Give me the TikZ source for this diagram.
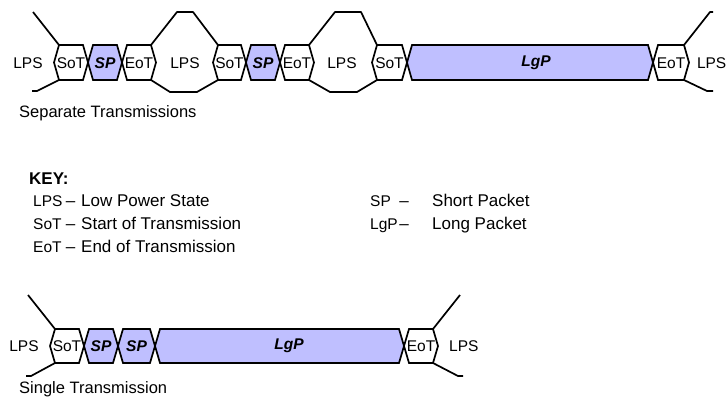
\documentclass[tikz,border=0pt]{standalone}
\usepackage{fontspec}
\setmainfont{Liberation Sans}
\definecolor{pkt}{RGB}{191,191,255}
\newcommand{\hexcell}[6]{% name, x1, x2, top, mid, bot
  \path[cellline] (#2,#5) -- (#2+5,#4) -- (#3-5,#4) -- (#3,#5) -- (#3-5,#6) -- (#2+5,#6) -- cycle;}
\newcommand{\pktcell}[6]{%
  \path[cellline,fill=pkt] (#2,#5) -- (#2+5,#4) -- (#3-5,#4) -- (#3,#5) -- (#3-5,#6) -- (#2+5,#6) -- cycle;}
\tikzset{
  cellline/.style={draw=black,line width=1.7pt,line join=miter},
  wire/.style={draw=black,line width=1.7pt,line join=round},
  lbl/.style={inner sep=0pt,font=\fontsize{15.5}{18}\selectfont},
  pktlbl/.style={inner sep=0pt,font=\fontsize{15.5}{18}\selectfont\bfseries\itshape},
  keytxt/.style={inner sep=0pt,anchor=base west,font=\fontsize{17}{20}\selectfont},
  keydash/.style={inner sep=0pt,anchor=base,font=\fontsize{17}{20}\selectfont},
  keyabbr/.style={inner sep=0pt,anchor=base west,font=\fontsize{15.5}{20}\selectfont},
  captxt/.style={inner sep=0pt,anchor=west,font=\fontsize{16.5}{20}\selectfont},
}
\begin{document}
\begin{tikzpicture}[x=1pt,y=-1pt]
\useasboundingbox (0,0) rectangle (727,400);
% ---------- top row: separate transmissions ----------
\draw[wire] (33,12) -- (59,45);
\draw[wire] (32,91) -- (37,91) -- (59,80);
\hexcell{s1}{54}{88}{45}{62.5}{80}
\pktcell{p1}{88}{122}{45}{62.5}{80}
\hexcell{e1}{122}{156}{45}{62.5}{80}
\draw[wire] (151,45) -- (177,12) -- (193,12) -- (218,45);
\draw[wire] (151,80) -- (170,92) -- (197,92) -- (218,80);
\hexcell{s2}{213}{246}{45}{62.5}{80}
\pktcell{p2}{246}{280}{45}{62.5}{80}
\hexcell{e2}{280}{314}{45}{62.5}{80}
\draw[wire] (309,45) -- (335,12) -- (361,12) -- (377,45);
\draw[wire] (309,80) -- (330,92) -- (357,92) -- (377,80);
\hexcell{s3}{372}{407}{45}{62.5}{80}
\pktcell{lg1}{407}{653}{45}{62.5}{80}
\hexcell{e3}{653}{689}{45}{62.5}{80}
\draw[wire] (684,45) -- (710,12) -- (713,12);
\draw[wire] (684,80) -- (707,91) -- (713,91);

\node[lbl] (tl1) at (28,63) {LPS};
\node[lbl] (ts1) at (71,63) {SoT};
\node[pktlbl] (tp1) at (105,63) {SP};
\node[lbl] (te1) at (139,63) {EoT};
\node[lbl] (tl2) at (185,63) {LPS};
\node[lbl] (ts2) at (229.5,63) {SoT};
\node[pktlbl] (tp2) at (263,63) {SP};
\node[lbl] (te2) at (297,63) {EoT};
\node[lbl] (tl3) at (342,63) {LPS};
\node[lbl] (ts3) at (389.5,63) {SoT};
\node[pktlbl] (tg1) at (536,63) {LgP};
\node[lbl] (te3) at (671,63) {EoT};
\node[lbl,anchor=east] (tl4) at (726.5,63) {LPS};
\node[captxt] (sep) at (19,113) {Separate Transmissions};

% ---------- key ----------
\node[keytxt,font=\fontsize{17}{20}\selectfont\bfseries] (key) at (29,184) {KEY:};
\node[keyabbr] (k1a) at (33,206) {LPS};
\node[keydash] (k1b) at (70.5,206) {–};
\node[keytxt] (k1c) at (81,206) {Low Power State};
\node[keyabbr] (k2a) at (33,229) {SoT};
\node[keydash] (k2b) at (70.5,229) {–};
\node[keytxt] (k2c) at (81,229) {Start of Transmission};
\node[keyabbr] (k3a) at (33,252) {EoT};
\node[keydash] (k3b) at (70.5,252) {–};
\node[keytxt] (k3c) at (81,252) {End of Transmission};
\node[keyabbr] (k4a) at (370,206) {SP};
\node[keydash] (k4b) at (404,206) {–};
\node[keytxt] (k4c) at (432,206) {Short Packet};
\node[keyabbr] (k5a) at (370,229) {LgP};
\node[keydash] (k5b) at (404,229) {–};
\node[keytxt] (k5c) at (432,229) {Long Packet};

% ---------- bottom row: single transmission ----------
\draw[wire] (28,295) -- (55,329);
\draw[wire] (26,376) -- (31,376) -- (55,363);
\hexcell{bs}{50}{84}{329}{346}{363}
\pktcell{bp1}{84}{118}{329}{346}{363}
\pktcell{bp2}{118}{155}{329}{346}{363}
\pktcell{bg}{155}{404}{329}{346}{363}
\hexcell{be}{404}{438}{329}{346}{363}
\draw[wire] (433,329) -- (460,295);
\draw[wire] (433,363) -- (458,376) -- (463,376);

\node[lbl] (bl1) at (24,346) {LPS};
\node[lbl] (bts) at (67,346) {SoT};
\node[pktlbl] (btp1) at (101,346) {SP};
\node[pktlbl] (btp2) at (136.5,346) {SP};
\node[pktlbl] (btg) at (289,346) {LgP};
\node[lbl] (bte) at (421,346) {EoT};
\node[lbl,anchor=west] (bl2) at (449,346) {LPS};
\node[captxt] (single) at (19,389) {Single Transmission};
\end{tikzpicture}
\end{document}
